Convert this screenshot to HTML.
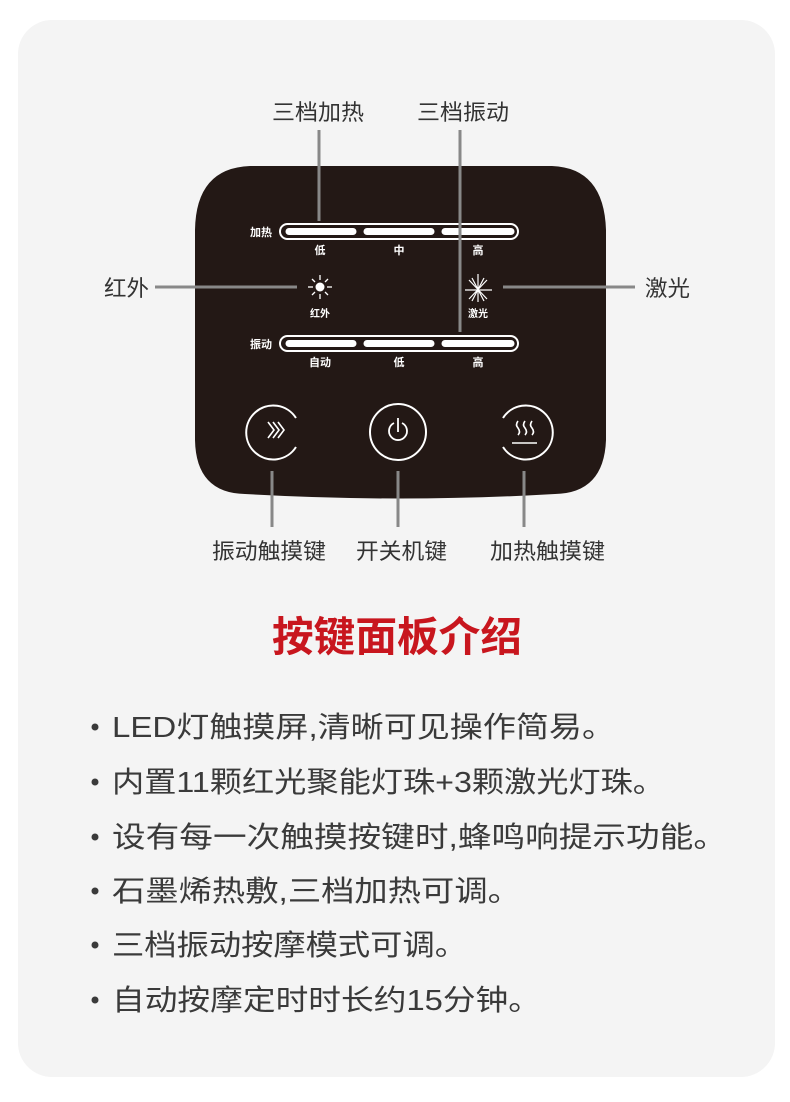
<!DOCTYPE html>
<html><head><meta charset="utf-8"><style>
html,body{margin:0;padding:0;background:#fff;}
svg text{font-family:"Liberation Sans","Noto Sans CJK SC",sans-serif;}
</style></head><body>
<svg width="790" height="1097" viewBox="0 0 790 1097" xmlns="http://www.w3.org/2000/svg">
<rect x="18" y="20" width="757" height="1057" rx="34" fill="#f4f4f4"/>
<path d="M250 166 L552 166 Q604 168 606 230 L606 440 Q604 493 555 494 Q400 503 245 494 Q196 493 195 440 L195 230 Q196 168 250 166 Z" fill="#231815"/>
<g fill="none" stroke="#fff" stroke-width="2">
<rect x="280" y="224" width="238" height="15" rx="7.5"/>
<rect x="280" y="336" width="238" height="15" rx="7.5"/>
</g>
<g stroke="#fff" stroke-width="7" stroke-linecap="round">
<line x1="289" y1="231.5" x2="353" y2="231.5"/><line x1="367" y1="231.5" x2="431" y2="231.5"/><line x1="445" y1="231.5" x2="511" y2="231.5"/>
<line x1="289" y1="343.5" x2="353" y2="343.5"/><line x1="367" y1="343.5" x2="431" y2="343.5"/><line x1="445" y1="343.5" x2="511" y2="343.5"/>
</g>
<g fill="#fff" font-size="11" font-weight="bold" text-anchor="middle">
<text x="261" y="236">加热</text><text x="261" y="348">振动</text>
<text x="320" y="254">低</text><text x="399" y="254">中</text><text x="478" y="254">高</text>
<text x="320" y="366">自动</text><text x="399" y="366">低</text><text x="478" y="366">高</text>
<text x="320" y="317" font-size="10">红外</text><text x="478" y="317" font-size="10">激光</text>
</g>
<circle cx="320" cy="287" r="4.5" fill="#fff"/>
<g stroke="#fff" stroke-width="1.3">
<line x1="320" y1="275" x2="320" y2="280"/><line x1="320" y1="294" x2="320" y2="299"/>
<line x1="308" y1="287" x2="313" y2="287"/><line x1="327" y1="287" x2="332" y2="287"/>
<line x1="312" y1="279" x2="315" y2="282"/><line x1="325" y1="292" x2="328" y2="295"/>
<line x1="328" y1="279" x2="325" y2="282"/><line x1="315" y1="292" x2="312" y2="295"/>
</g>
<g stroke="#fff" stroke-width="1.2">
<line x1="478" y1="274" x2="478" y2="302"/><line x1="465" y1="290" x2="492" y2="290"/>
<line x1="469" y1="280" x2="487" y2="299"/><line x1="487" y1="280" x2="469" y2="299"/>
<line x1="472" y1="278" x2="484" y2="301"/><line x1="484" y1="278" x2="472" y2="301"/>
</g>
<g fill="none" stroke="#fff" stroke-width="2">
<path d="M296 418 A27 27 0 1 0 296 447"/>
<circle cx="398" cy="432" r="28"/>
<path d="M503 418 A27 27 0 1 1 503 447"/>
<path d="M394 423 A9 9 0 1 0 402 423" stroke-width="1.8"/><line x1="398" y1="418" x2="398" y2="432" stroke-width="1.8"/>
</g>
<g fill="none" stroke="#fff" stroke-width="1.6">
<path d="M268 422 l6 8 l-6 8 M273 422 l6 8 l-6 8 M278 422 l6 8 l-6 8"/>
<path d="M518 421 q-3 4 0 7 q3 4 0 7 M525 421 q-3 4 0 7 q3 4 0 7 M532 421 q-3 4 0 7 q3 4 0 7"/>
<line x1="512" y1="443" x2="537" y2="443"/>
</g>
<g stroke="#888" stroke-width="3">
<line x1="319" y1="130" x2="319" y2="221"/>
<line x1="460" y1="130" x2="460" y2="332"/>
<line x1="155" y1="287" x2="297" y2="287"/>
<line x1="503" y1="287" x2="635" y2="287"/>
<line x1="272" y1="471" x2="272" y2="527"/>
<line x1="398" y1="471" x2="398" y2="527"/>
<line x1="524" y1="471" x2="524" y2="527"/>
</g>
<g fill="#333" font-size="22" lengthAdjust="spacingAndGlyphs">
<text x="272" y="120" textLength="92" lengthAdjust="spacingAndGlyphs">三档加热</text>
<text x="417" y="120" textLength="92" lengthAdjust="spacingAndGlyphs">三档振动</text>
<text x="104" y="296" textLength="45" lengthAdjust="spacingAndGlyphs">红外</text>
<text x="645" y="296" textLength="45" lengthAdjust="spacingAndGlyphs">激光</text>
<text x="212" y="559" textLength="114" lengthAdjust="spacingAndGlyphs">振动触摸键</text>
<text x="356" y="559" textLength="91" lengthAdjust="spacingAndGlyphs">开关机键</text>
<text x="490" y="559" textLength="115" lengthAdjust="spacingAndGlyphs">加热触摸键</text>
</g>
<text x="272" y="651" textLength="250" lengthAdjust="spacingAndGlyphs" font-size="41" font-weight="bold" fill="#c8161e">按键面板介绍</text>
<g fill="#3a3a3a" font-size="29">
<circle cx="95" cy="727" r="3.5"/><text x="112" y="737" textLength="503" lengthAdjust="spacingAndGlyphs">LED灯触摸屏,清晰可见操作简易。</text>
<circle cx="95" cy="782" r="3.5"/><text x="112" y="792" textLength="553" lengthAdjust="spacingAndGlyphs">内置11颗红光聚能灯珠+3颗激光灯珠。</text>
<circle cx="95" cy="837" r="3.5"/><text x="112" y="847" textLength="615" lengthAdjust="spacingAndGlyphs">设有每一次触摸按键时,蜂鸣响提示功能。</text>
<circle cx="95" cy="891" r="3.5"/><text x="112" y="901" textLength="409" lengthAdjust="spacingAndGlyphs">石墨烯热敷,三档加热可调。</text>
<circle cx="95" cy="945" r="3.5"/><text x="112" y="955" textLength="355" lengthAdjust="spacingAndGlyphs">三档振动按摩模式可调。</text>
<circle cx="95" cy="1000" r="3.5"/><text x="112" y="1010" textLength="429" lengthAdjust="spacingAndGlyphs">自动按摩定时时长约15分钟。</text>
</g>
</svg>
</body></html>
